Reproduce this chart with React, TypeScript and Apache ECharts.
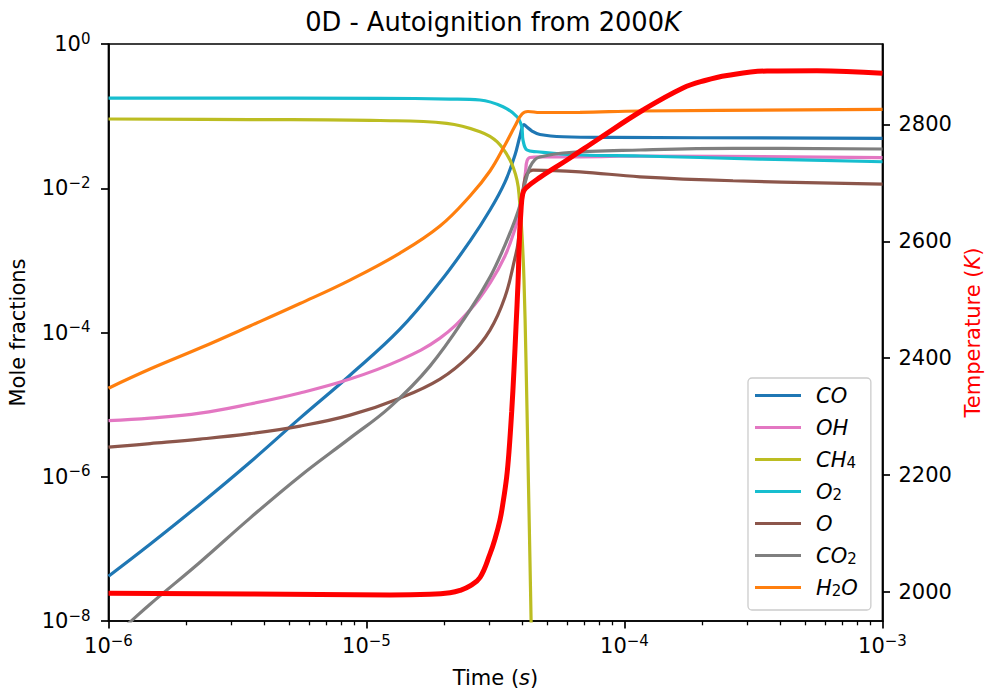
import React, { useEffect, useRef } from "react";
import * as echarts from "echarts";

const FONT = "DejaVu Sans";

// ---- axis ticks ----
const xMajorTicks = [1e-6, 1e-5, 1e-4, 1e-3];
const xMinorTicks = [
  2e-6, 3e-6, 4e-6, 5e-6, 6e-6, 7e-6, 8e-6, 9e-6,
  2e-5, 3e-5, 4e-5, 5e-5, 6e-5, 7e-5, 8e-5, 9e-5,
  2e-4, 3e-4, 4e-4, 5e-4, 6e-4, 7e-4, 8e-4, 9e-4,
];
const yMajorTicks = [1e-8, 1e-6, 1e-4, 1e-2, 1];
const tempTicks = [2000, 2200, 2400, 2600, 2800];

// ---- species (mole fractions) ----
const coTime = [1e-6, 1.449e-6, 2.263e-6, 3.536e-6, 5.524e-6, 8.63e-6, 1.348e-5, 1.927e-5, 2.519e-5, 3.011e-5, 3.441e-5, 3.763e-5, 3.936e-5, 4.078e-5, 4.188e-5, 4.38e-5, 4.703e-5, 5.775e-5, 9.024e-5, 1e-3];
const coFrac = [4.18e-8, 1.16e-7, 4.17e-7, 1.59e-6, 6.5e-6, 2.56e-5, 1.11e-4, 5.0e-4, 1.85e-3, 4.99e-3, 0.01219, 0.0289, 0.053, 0.0764, 0.0706, 0.0621, 0.0556, 0.0518, 0.0508, 0.0492];

const ohTime = [1e-6, 1.449e-6, 2.263e-6, 3.536e-6, 5.524e-6, 8.63e-6, 1.348e-5, 1.927e-5, 2.519e-5, 3.011e-5, 3.441e-5, 3.763e-5, 3.936e-5, 4.053e-5, 4.133e-5, 4.188e-5, 4.301e-5, 4.703e-5, 6.72e-5, 1.148e-4, 1e-3];
const ohFrac = [6.0e-6, 6.5e-6, 7.62e-6, 1.02e-5, 1.45e-5, 2.26e-5, 4.14e-5, 8.36e-5, 2.05e-4, 4.85e-4, 1.15e-3, 2.72e-3, 4.99e-3, 9.44e-3, 0.0168, 0.0238, 0.0267, 0.0273, 0.0273, 0.028, 0.0265];

const ch4Time = [1e-6, 3.536e-6, 1.128e-5, 2.046e-5, 2.754e-5, 3.204e-5, 3.598e-5, 3.831e-5, 3.917e-5, 4.006e-5, 4.078e-5, 4.151e-5, 4.226e-5, 4.301e-5, 4.359e-5];
const ch4Frac = [0.0912, 0.0897, 0.0869, 0.0794, 0.0608, 0.0442, 0.0246, 0.013, 6.86e-3, 2.24e-3, 5.33e-4, 4.14e-5, 1.7e-6, 6.97e-8, 5.42e-9];

const o2Time = [1e-6, 1.128e-5, 2.107e-5, 2.754e-5, 3.381e-5, 3.831e-5, 3.996e-5, 4.042e-5, 4.188e-5, 4.579e-5, 6.72e-5, 1.148e-4, 3.35e-4, 1e-3];
const o2Frac = [0.1782, 0.1766, 0.1726, 0.1672, 0.1349, 0.0981, 0.0713, 0.0466, 0.0339, 0.0321, 0.0289, 0.028, 0.0254, 0.0233];

const oTime = [1e-6, 1.449e-6, 2.263e-6, 3.536e-6, 5.524e-6, 8.63e-6, 1.348e-5, 1.927e-5, 2.519e-5, 3.011e-5, 3.441e-5, 3.763e-5, 3.866e-5, 3.996e-5, 4.078e-5, 4.188e-5, 4.417e-5, 6.72e-5, 1.148e-4, 2.633e-4, 1e-3];
const oFrac = [2.57e-6, 2.88e-6, 3.32e-6, 3.96e-6, 5.04e-6, 7.15e-6, 1.23e-5, 2.26e-5, 4.86e-5, 1.08e-4, 3.1e-4, 1.08e-3, 1.74e-3, 6.86e-3, 0.01143, 0.01574, 0.01787, 0.0169, 0.0144, 0.0127, 0.0114];

const co2Time = [1e-6, 1.211e-6, 1.449e-6, 2.263e-6, 3.536e-6, 5.524e-6, 8.63e-6, 1.233e-5, 1.762e-5, 2.519e-5, 3.011e-5, 3.441e-5, 3.763e-5, 3.936e-5, 4.053e-5, 4.188e-5, 4.301e-5, 4.497e-5, 4.703e-5, 5.775e-5, 1.148e-4, 2.633e-4, 1e-3];
const co2Frac = [5.25e-9, 9.62e-9, 1.71e-8, 6.54e-8, 2.67e-7, 1.02e-6, 3.43e-6, 9.23e-6, 3.42e-5, 2.05e-4, 5.86e-4, 1.63e-3, 3.62e-3, 5.85e-3, 9.44e-3, 0.01477, 0.0197, 0.025, 0.0271, 0.0308, 0.0339, 0.0358, 0.035];

const h2oTime = [1e-6, 1.449e-6, 2.263e-6, 3.536e-6, 5.524e-6, 8.63e-6, 1.348e-5, 1.927e-5, 2.519e-5, 3.011e-5, 3.441e-5, 3.763e-5, 4.006e-5, 4.226e-5, 4.703e-5, 6.72e-5, 1.148e-4, 1e-3];
const h2oFrac = [1.69e-5, 3.11e-5, 6.08e-5, 1.23e-4, 2.52e-4, 5.33e-4, 1.26e-3, 2.99e-3, 7.8e-3, 0.01733, 0.0397, 0.0729, 0.1069, 0.1159, 0.1122, 0.1129, 0.1177, 0.1243];

// ---- temperature ----
const tempTime = [1e-6, 3.536e-6, 1.233e-5, 1.762e-5, 2.107e-5, 2.304e-5, 2.519e-5, 2.754e-5, 3.011e-5, 3.148e-5, 3.291e-5, 3.381e-5, 3.494e-5, 3.566e-5, 3.653e-5, 3.729e-5, 3.797e-5, 3.866e-5, 3.91e-5, 3.969e-5, 4.031e-5, 4.14e-5, 4.703e-5, 5.985e-5, 8.035e-5, 1.18e-4, 1.685e-4, 2.051e-4, 2.496e-4, 3.567e-4, 5.571e-4, 1e-3];
const tempK = [1997.4, 1996.1, 1994.3, 1995.5, 1998.1, 2002.1, 2009.8, 2024.3, 2064.6, 2090.2, 2122.8, 2151.9, 2196.4, 2239.2, 2307.7, 2379.6, 2453.3, 2528.6, 2595.4, 2651.9, 2681.0, 2690.8, 2709.4, 2739.2, 2776.9, 2824.8, 2862.5, 2875.3, 2883.9, 2891.6, 2892.1, 2887.7];

const speciesNames = ["CO", "OH", "CH4", "O2", "O", "CO2", "H2O"];
const speciesColors = ["#1f77b4", "#e377c2", "#bcbd22", "#17becf", "#8c564b", "#7f7f7f", "#ff7f0e"];
const speciesTimes = [coTime, ohTime, ch4Time, o2Time, oTime, co2Time, h2oTime];
const speciesFracs = [coFrac, ohFrac, ch4Frac, o2Frac, oFrac, co2Frac, h2oFrac];
const legendLabels: Record<string, string> = {
  CO: "{i|CO}",
  OH: "{i|OH}",
  CH4: "{i|CH}{sub|4}",
  O2: "{i|O}{sub|2}",
  O: "{i|O}",
  CO2: "{i|CO}{sub|2}",
  H2O: "{i|H}{sub|2}{i|O}",
};

const zip = (a: number[], b: number[]) => a.map((t, i) => [t, b[i]]);

const powLabel = (v: number) => {
  const e = Math.round(Math.log10(v));
  return `{b|10}{s|${e < 0 ? "\u2212" + -e : e}}`;
};
const powRich = {
  b: { fontFamily: FONT, fontSize: 21, lineHeight: 26, color: "#000" },
  s: { fontFamily: FONT, fontSize: 15, lineHeight: 15, color: "#000", verticalAlign: "top" },
};

const AXIS_W = 1.7;
const SMOOTH = 0.4;

function buildOption(): any {
  const series: any[] = speciesNames.map((name, i) => ({
    name,
    type: "line",
    xAxisIndex: 0,
    yAxisIndex: 0,
    data: zip(speciesTimes[i], speciesFracs[i]),
    showSymbol: false,
    symbol: "none",
    smooth: SMOOTH,
    lineStyle: { color: speciesColors[i], width: 3.2 },
    itemStyle: { color: speciesColors[i] },
    silent: true,
  }));
  series.push({
    name: "Temperature",
    type: "line",
    xAxisIndex: 0,
    yAxisIndex: 1,
    data: zip(tempTime, tempK),
    showSymbol: false,
    symbol: "none",
    smooth: SMOOTH,
    lineStyle: { color: "#ff0000", width: 5 },
    itemStyle: { color: "#ff0000" },
    silent: true,
  });

  return {
    animation: false,
    backgroundColor: "#ffffff",
    title: {
      text: "0D - Autoignition from 2000{i|K}",
      left: "center",
      top: 4,
      padding: [5, 0, 5, 5],
      textStyle: {
        fontFamily: FONT,
        fontSize: 25.7,
        fontWeight: "normal",
        color: "#000",
        rich: { i: { fontFamily: FONT, fontSize: 25.7, fontStyle: "italic", color: "#000" } },
      },
    },
    grid: {
      left: 108.5,
      top: 44,
      right: 103.5,
      bottom: 72,
      containLabel: false,
      outerBoundsMode: "none",
      show: true,
      borderColor: "#000",
      borderWidth: AXIS_W,
      backgroundColor: "transparent",
    },
    legend: {
      data: speciesNames,
      orient: "vertical",
      left: 748,
      top: 378,
      padding: [7, 13, 12, 7],
      icon: "rect",
      itemWidth: 46,
      itemHeight: 3.2,
      itemGap: 11,
      selectedMode: false,
      backgroundColor: "rgba(255,255,255,0.8)",
      borderColor: "#cccccc",
      borderWidth: 1.3,
      borderRadius: 4,
      formatter: (name: string) => legendLabels[name],
      textStyle: {
        fontFamily: FONT,
        fontSize: 21,
        color: "#000",
        padding: [0, 0, 0, 10],
        rich: {
          i: { fontFamily: FONT, fontSize: 21, lineHeight: 21, fontStyle: "italic", color: "#000" },
          sub: { fontFamily: FONT, fontSize: 15, lineHeight: 11, color: "#000", verticalAlign: "bottom" },
        },
      },
    },
    xAxis: [
      {
        type: "log",
        logBase: 10,
        min: 1e-6,
        max: 1e-3,
        position: "bottom",
        name: "Time ({i|s})",
        nameLocation: "middle",
        nameGap: 46,
        nameTextStyle: {
          fontFamily: FONT,
          fontSize: 21,
          color: "#000",
          rich: { i: { fontFamily: FONT, fontSize: 21, fontStyle: "italic", color: "#000" } },
        },
        axisLine: { show: true, lineStyle: { color: "#000", width: AXIS_W } },
        axisTick: { show: true, inside: false, length: 7.5, customValues: xMajorTicks, lineStyle: { color: "#000", width: AXIS_W } },
        axisLabel: { show: true, margin: 12, customValues: xMajorTicks, formatter: powLabel, rich: powRich },
        splitLine: { show: false },
        minorTick: { show: false },
      },
      {
        type: "log",
        logBase: 10,
        min: 1e-6,
        max: 1e-3,
        position: "bottom",
        axisLine: { show: false },
        axisTick: { show: true, inside: false, length: 4.3, customValues: xMinorTicks, lineStyle: { color: "#000", width: 1.3 } },
        axisLabel: { show: false },
        splitLine: { show: false },
      },
    ],
    yAxis: [
      {
        type: "log",
        logBase: 10,
        min: 1e-8,
        max: 1,
        position: "left",
        name: "Mole fractions",
        nameLocation: "middle",
        nameRotate: 90,
        nameGap: 80,
        nameTextStyle: { fontFamily: FONT, fontSize: 21, color: "#000" },
        axisLine: { show: true, lineStyle: { color: "#000", width: AXIS_W } },
        axisTick: { show: true, inside: false, length: 7.5, customValues: yMajorTicks, lineStyle: { color: "#000", width: AXIS_W } },
        axisLabel: { show: true, margin: 18, customValues: yMajorTicks, formatter: powLabel, rich: powRich },
        splitLine: { show: false },
      },
      {
        type: "value",
        min: 1949.8,
        max: 2937.8,
        position: "right",
        name: "Temperature ({i|K})",
        nameLocation: "middle",
        nameRotate: 90,
        nameGap: 79,
        nameTextStyle: {
          fontFamily: FONT,
          fontSize: 21,
          color: "#ff0000",
          rich: { i: { fontFamily: FONT, fontSize: 21, fontStyle: "italic", color: "#ff0000" } },
        },
        axisLine: { show: true, lineStyle: { color: "#000", width: AXIS_W } },
        axisTick: { show: true, inside: false, length: 7.5, customValues: tempTicks, lineStyle: { color: "#000", width: AXIS_W } },
        axisLabel: {
          show: true,
          margin: 16,
          customValues: tempTicks,
          formatter: (v: number) => String(Math.round(v)),
          fontFamily: FONT,
          fontSize: 21,
          color: "#000",
        },
        splitLine: { show: false },
      },
    ],
    series,
  };
}

export default function App() {
  const ref = useRef<HTMLDivElement>(null);
  useEffect(() => {
    document.body.style.margin = "0";
    const chart = echarts.init(ref.current as HTMLDivElement, null, { renderer: "svg" });
    chart.setOption(buildOption());
    return () => chart.dispose();
  }, []);
  return <div ref={ref} style={{ width: 986, height: 693 }} />;
}
